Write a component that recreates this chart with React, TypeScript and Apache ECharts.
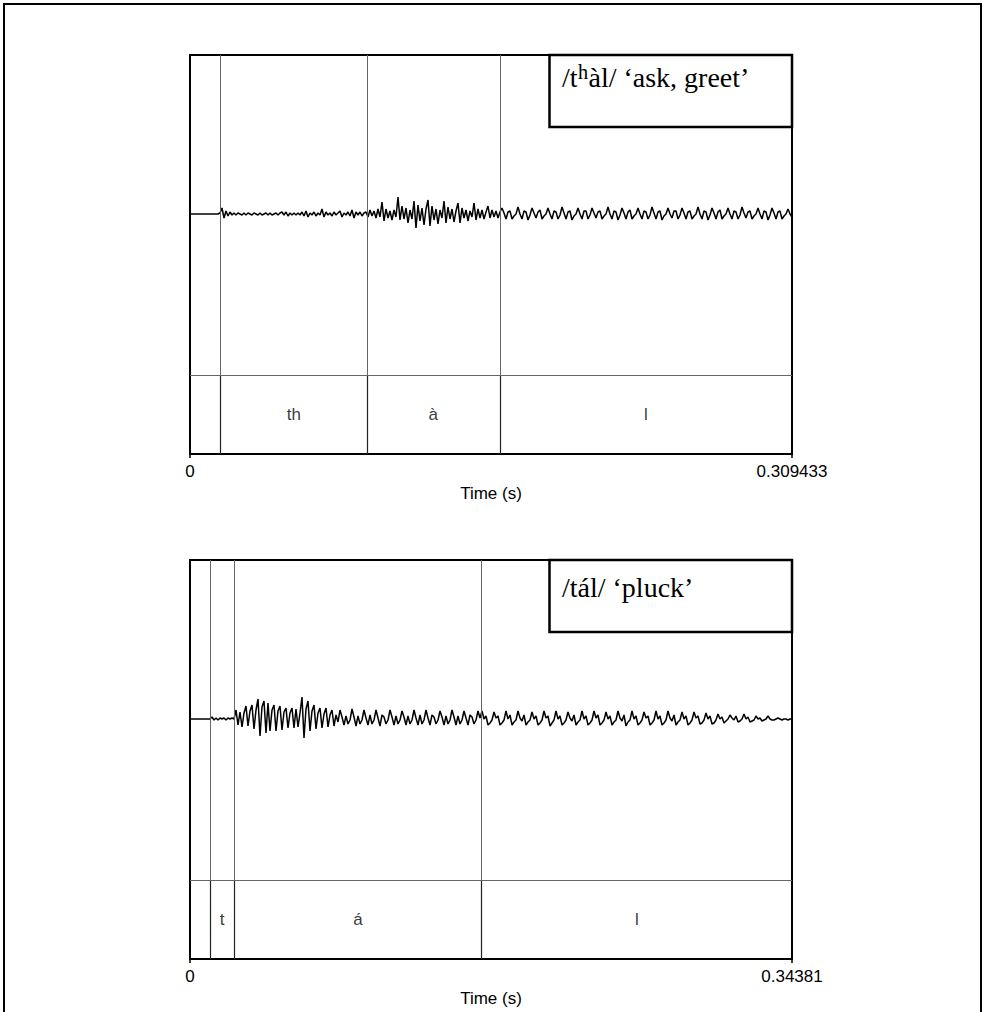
import React, { useEffect, useRef } from "react";
import * as echarts from "echarts";

// ---------- data ----------
const panelTitles = ["/tʰàl/ ‘ask, greet’", "/tál/ ‘pluck’"];
const durations = [0.309433, 0.34381];
const durationLabels = ["0.309433", "0.34381"];
const axisName = "Time (s)";

const topBoundaries = [0.01578, 0.09088, 0.15929];
const topSegments = ["th", "à", "l"];
const bottomBoundaries = [0.01142, 0.02536, 0.16654];
const bottomSegments = ["t", "á", "l"];

// waveform amplitudes (arbitrary units, positive = up), equally spaced in time
const topWaveClosure = [0, 0, 0, 0, 0, 0, 0, 0, 0, 0, 0, 0, 0, 0, 0];
const topWaveAspiration = [
  1, 6, -4, 3, -2, 2, -1, 1, -1, 1, 0, -1, 1, -1, 1, 0, -1, 1, 0, -1,
  1, -1, 0, 1, -1, 1, -1, 0, 1, -1, 1, 2, -1, 2, -2, 1, -1, 1, -1, 1,
  -1, 2, -2, 3, -3, 1, -1, 2, -2, 1, -1, 5, -3, 2, -1, 1, -2, 2, -1, 1,
  3, -3, 1, -1, 2, -2, 4, -4, 2, -1, 2, -2, 1,
];
const topWaveVowel = [
  2, -3, 4, -2, 3, -4, 5, -3,
  12, -7, 5, -4, 3, -6, 4, -3,
  17, -6, 8, -5, 6, -9, 4, -5,
  13, -14, 9, -7, 6, -11, 5,
  14, -12, 8, -6, 5, -10, 4, -4,
  13, -9, 7, -5, 5, -8, 3,
  11, -9, 6, -4, 4, -7, 3, -3,
  11, -6, 5, -4, 4, -5, 2,
  8, -4, 4, -3, 3, -4, 2,
];
const topWaveLateral = [
  6, 1, -5, 2, 3, -5, -2, 0,
  7, 0, -5, 3, 2, -6, -1,
  6, 1, -4, 2, 4, -5, -2, 0,
  6, 0, -5, 3, 2, -5, -1,
  7, 1, -5, 2, 3, -6, -2, 0,
  6, 0, -5, 3, 3, -5, -1,
  6, 1, -4, 2, 3, -5, -2, 0,
  7, 0, -5, 3, 2, -6, -1,
  6, 1, -5, 2, 4, -5, -2, 0,
  6, 0, -5, 3, 2, -5, -1,
  7, 1, -5, 2, 3, -6, -2, 0,
  6, 0, -4, 3, 3, -5, -1,
  6, 1, -5, 2, 3, -5, -2, 0,
  7, 0, -5, 3, 2, -6, -1,
  6, 1, -5, 2, 4, -5, -2, 0,
  6, 0, -5, 3, 2, -5, -1,
  7, 1, -4, 2, 3, -5, -2, 0,
  6, 0, -5, 3, 2, -6, -1,
  6, 1, -5, 2, 3, -5, -2, 0,
  5, 0, -3,
];

const bottomWaveClosure = [0, 0, 0, 0, 0, 0, 0, 0, 0, 0, 0];
const bottomWaveBurst = [2, -1, 1, -1, 1, 0, 1, -1, 1, 0, 1, 0];
const bottomWaveVowelOnset = [
  9, -6, 7, -8, 6, 13, -7, 8, 14, -10,
  9, 20, -17, 12, 18, -14, 16, -12, 9, 14,
  -12, 8, 13, -11, 7, 11, -9, 6, 11, -9,
  10, -8, 6, 22, -19, 10, 18, -12, 8, 14,
  -10, 6, 11, -9, 5, 11, -8, 4, 9, -7,
  4, -3,
];
const bottomWaveVowel = [
  9, 2, -6, 3, -5, -1,
  10, 2, -7, 3, -5, -1,
  9, 1, -6, 4, -5, -1,
  9, 1, -7, 4, 2, -5, -1,
  9, 2, -6, 3, -5, -1,
  8, 2, -6, 3, -5, -1,
  9, 1, -6, 4, -5, -1,
  9, 1, -6, 4, 2, -5, -1,
  8, 2, -6, 3, -5, -1,
  9, 2, -6, 3, -5, -1,
  8, 1, -6, 4, 2, -5, -1,
  8, 1,
];
const bottomWaveLateral = [
  8, 0, 3, -6, -4, -1,
  7, 1, 3, -6, -4, -1,
  8, 0, 4, -6, -3, -1,
  8, 1, -2, 4, -6, -3, -1,
  7, 0, 3, -6, -4, -1,
  8, 1, 3, -7, -4, -1,
  8, 0, 3, -6, -4, -1,
  7, 1, -2, 4, -6, -3, -1,
  8, 0, 3, -6, -4, -1,
  8, 1, 4, -6, -4, -1,
  7, 0, 3, -6, -3, -1,
  8, 1, -2, 4, -7, -3, -1,
  8, 0, 3, -6, -4, -1,
  7, 1, 3, -6, -4, -1,
  8, 0, 3, -6, -4, -1,
  8, 1, -2, 4, -6, -3, -1,
  7, 0, 3, -6, -4, -1,
  7, 1, 3, -5, -4, -1,
  6, 0, 3, -5,
];
const bottomWaveFade = [
  -4, -1, 5, 0, 2, -4, -2, 0, 4, 1, -1, 3, -3, -2, 0, 5, 0, 2, -3, -2,
  -1, 3, 0, 1, -2, -1, 0, 3, 0, -1, -1, 0, 1, 0, -1, 0, 0, -1, 0, 0,
];

const topWave = [...topWaveClosure, ...topWaveAspiration, ...topWaveVowel, ...topWaveLateral];
const bottomWave = [
  ...bottomWaveClosure,
  ...bottomWaveBurst,
  ...bottomWaveVowelOnset,
  ...bottomWaveVowel,
  ...bottomWaveLateral,
  ...bottomWaveFade,
];

// ---------- layout ----------
const SANS = '"Liberation Sans", Arial, sans-serif';
const SERIF = '"Liberation Serif", "Times New Roman", serif';
const GRID_LEFT = 190;
const GRID_WIDTH = 602;
const GRID_HEIGHT = 399;
const GRID_TOPS = [55, 560];
const Y_MIN = -240;
const Y_MAX = 159;
const TIER_LINE_Y = -161;
const TIER_LABEL_Y = -200;

function buildPanel(idx: number, wave: number[], boundaries: number[], segments: string[]) {
  const dur = durations[idx];
  const n = wave.length;
  const lineData = wave.map((v, i) => [(i * dur) / (n - 1), v]);
  const ends = [...boundaries, dur];
  const labelData = segments.map((s, k) => ({
    value: [(ends[k] + ends[k + 1]) / 2, TIER_LABEL_Y],
    name: s,
  }));
  return {
    grid: {
      left: GRID_LEFT,
      top: GRID_TOPS[idx],
      width: GRID_WIDTH,
      height: GRID_HEIGHT,
      show: true,
      borderColor: "#000",
      borderWidth: 2,
      backgroundColor: "#fff",
    },
    xAxis: {
      type: "value",
      gridIndex: idx,
      min: 0,
      max: dur,
      interval: dur,
      splitLine: { show: false },
      axisLine: { show: true, onZero: false, lineStyle: { color: "#000", width: 2 } },
      axisTick: { show: true, length: 4, lineStyle: { color: "#000", width: 1.5 } },
      axisLabel: {
        show: true,
        margin: 9,
        color: "#000",
        fontSize: 17,
        fontFamily: SANS,
        showMinLabel: true,
        showMaxLabel: true,
        formatter: (v: number) => (v === 0 ? "0" : durationLabels[idx]),
      },
      name: axisName,
      nameLocation: "middle",
      nameGap: 31,
      nameTextStyle: { color: "#000", fontSize: 17, fontFamily: SANS },
    },
    yAxis: {
      type: "value",
      gridIndex: idx,
      min: Y_MIN,
      max: Y_MAX,
      show: false,
      splitLine: { show: false },
    },
    series: [
      {
        type: "line",
        xAxisIndex: idx,
        yAxisIndex: idx,
        data: lineData,
        showSymbol: false,
        symbol: "none",
        silent: true,
        lineStyle: { color: "#000", width: 1.5 },
        z: 3,
        markLine: {
          silent: true,
          symbol: "none",
          precision: 8,
          animation: false,
          label: { show: false },
          data: [
            ...boundaries.map((b) => ({ xAxis: b, lineStyle: { color: "#666", width: 1, type: "solid" } })),
            ...boundaries.map((b) => [
              { coord: [b, TIER_LINE_Y], lineStyle: { color: "#222", width: 1.2, type: "solid" } },
              { coord: [b, Y_MIN] },
            ]),
            { yAxis: TIER_LINE_Y, lineStyle: { color: "#666", width: 1, type: "solid" } },
          ],
        },
      },
      {
        type: "scatter",
        xAxisIndex: idx,
        yAxisIndex: idx,
        data: labelData,
        symbolSize: 0,
        silent: true,
        label: {
          show: true,
          position: "inside",
          formatter: (p: any) => p.name,
          color: "#000",
          fontSize: 17,
          fontFamily: SANS,
        },
      },
    ],
  };
}

// turn the modifier letter into a rich-text token so it can be drawn larger
function richTitle(t: string) {
  return t.split("ʰ").join("{sup|ʰ}");
}

export default function App() {
  const ref = useRef<HTMLDivElement>(null);

  useEffect(() => {
    document.body.style.margin = "0";
    if (!ref.current) return;
    const chart = echarts.init(ref.current, null, { renderer: "svg" });
    const p0 = buildPanel(0, topWave, topBoundaries, topSegments);
    const p1 = buildPanel(1, bottomWave, bottomBoundaries, bottomSegments);
    const titleY = [77, 587];
    const boxTop = [55, 560];
    chart.setOption({
      animation: false,
      backgroundColor: "#fff",
      grid: [p0.grid, p1.grid],
      xAxis: [p0.xAxis, p1.xAxis],
      yAxis: [p0.yAxis, p1.yAxis],
      series: [...p0.series, ...p1.series],
      graphic: [
        {
          type: "rect",
          silent: true,
          shape: { x: 4, y: 4, width: 977, height: 1030 },
          style: { fill: "none", stroke: "#000", lineWidth: 2 },
          z: 10,
        },
        ...[0, 1].flatMap((i) => [
          {
            type: "rect",
            silent: true,
            shape: { x: 549.5, y: boxTop[i], width: 242.5, height: 72 },
            style: { fill: "#fff", stroke: "#000", lineWidth: 2.5 },
            z: 20,
          },
          {
            type: "text",
            silent: true,
            x: 562,
            y: titleY[i],
            style: {
              text: richTitle(panelTitles[i]),
              fill: "#000",
              fontSize: 28,
              fontFamily: SERIF,
              verticalAlign: "middle",
              align: "left",
              lineHeight: 32,
              rich: {
                sup: {
                  fontSize: 34,
                  fontFamily: SERIF,
                  fill: "#000",
                  lineHeight: 32,
                  verticalAlign: "middle",
                  padding: [0, 0, 1, 0],
                },
              },
            },
            z: 21,
          },
        ]),
      ],
    });
    return () => chart.dispose();
  }, []);

  return <div ref={ref} style={{ width: 985, height: 1012 }} />;
}
